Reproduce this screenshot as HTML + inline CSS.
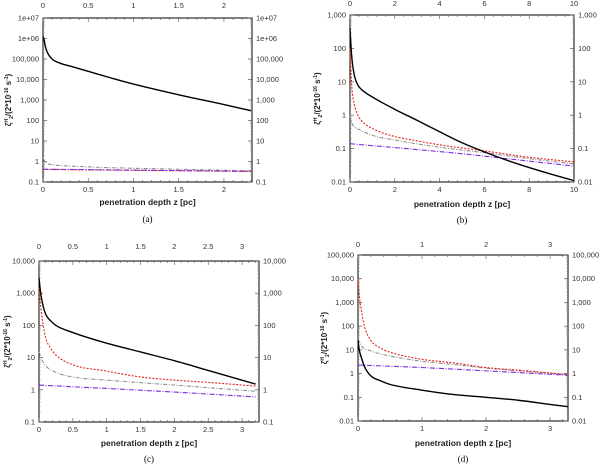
<!DOCTYPE html>
<html><head><meta charset="utf-8"><style>
html,body{margin:0;padding:0;background:#fff;}
svg{display:block;font-family:"Liberation Sans",sans-serif;}
</style></head><body>
<svg id="fig" width="600" height="464" viewBox="0 0 600 464"></svg>
<script>
// ---- data (z in pc, values in units of 2e-16 s^-1) ----
const aBlackZ=[0,0.01,0.03,0.05,0.1,0.2,0.3,0.5,0.75,1,1.5,2,2.3];
const aBlackV=[1.3e6,9e5,3.5e5,2e5,1e5,6e4,4.5e4,2.5e4,1.2e4,6e3,1.8e3,600,300];
const aGrayZ=[0,0.02,0.05,0.1,0.3,0.75,1.5,2.3];
const aGrayV=[1.5,1.0,0.8,0.7,0.6,0.5,0.42,0.35];
const aRedZ=[0,1,2.3];
const aRedV=[0.41,0.37,0.33];
const aPurpleZ=[0,1,2.3];
const aPurpleV=[0.42,0.38,0.33];

const bBlackZ=[0,0.05,0.1,0.2,0.35,0.5,1,2,3,4,5,6,7,8,9,10];
const bBlackV=[400,100,40,15,8,6,3.5,1.5,0.7,0.32,0.15,0.08,0.045,0.027,0.017,0.011];
const bRedZ=[0,0.05,0.1,0.2,0.3,0.5,1,2,3,4,6,8,10];
const bRedV=[100,15,5,2,1.2,0.7,0.4,0.23,0.17,0.13,0.085,0.055,0.04];
const bGrayZ=[0,0.05,0.1,0.5,1,2,4,6,8,10];
const bGrayV=[1,0.7,0.55,0.35,0.25,0.18,0.11,0.075,0.05,0.035];
const bPurpleZ=[0,2.5,5,7,10];
const bPurpleV=[0.14,0.1,0.07,0.05,0.03];

const cBlackZ=[0,0.02,0.05,0.1,0.17,0.25,0.5,1,1.5,2,2.5,3.2];
const cBlackV=[3000,1200,500,220,140,100,60,28,15,8,4,1.5];
const cRedZ=[0,0.02,0.05,0.1,0.17,0.25,0.5,1,1.5,2,2.5,3.2];
const cRedV=[1500,500,150,40,20,12,6,3.8,2.5,2,1.7,1.3];
const cGrayZ=[0,0.05,0.1,0.25,0.5,1,2,3.2];
const cGrayV=[15,8,5.5,3.5,2.5,2,1.4,0.9];
const cPurpleZ=[0,1,2,3.2];
const cPurpleV=[1.4,1.1,0.85,0.6];

const dBlackZ=[0,0.02,0.05,0.1,0.2,0.35,0.5,1,1.5,2,2.5,3,3.28];
const dBlackV=[25,10,5,2,0.8,0.5,0.35,0.2,0.13,0.1,0.075,0.05,0.04];
const dRedZ=[0,0.02,0.05,0.1,0.2,0.35,0.5,1,1.5,2,2.5,3.28];
const dRedV=[10000,2000,500,100,25,12,8,4,2.8,1.8,1.4,0.9];
const dGrayZ=[0,0.05,0.2,0.5,1,1.5,2,3.28];
const dGrayV=[30,15,9,5.5,3.3,2.4,1.7,0.9];
const dPurpleZ=[0,1,2,3.28];
const dPurpleV=[2.3,1.8,1.3,0.85];

const aXTicks=[0,0.5,1,1.5,2];
const bXTicks=[0,2,4,6,8,10];
const cXTicks=[0,0.5,1,1.5,2,2.5,3];
const dXTicks=[0,1,2,3];
const aYTicks=["0.1","1","10","100","1,000","10,000","100,000","1e+06","1e+07"];
const bYTicks=["0.01","0.1","1","10","100","1,000"];
const cYTicks=["0.1","1","10","100","1,000","10,000"];
const dYTicks=["0.01","0.1","1","10","100","1,000","10,000","100,000"];

const NS="http://www.w3.org/2000/svg";
const svg=document.getElementById('fig');
function mk(tag,attrs,parent){const e=document.createElementNS(NS,tag);for(const k in attrs)e.setAttribute(k,attrs[k]);(parent||svg).appendChild(e);return e;}

function monoPath(xs,ys){
  const n=xs.length;if(n<3)return xs.map((x,i)=>(i?'L':'M')+x.toFixed(1)+','+ys[i].toFixed(1)).join(' ');
  const d=[],m=new Array(n);
  for(let i=0;i<n-1;i++)d.push((ys[i+1]-ys[i])/(xs[i+1]-xs[i]));
  m[0]=d[0];m[n-1]=d[n-2];
  for(let i=1;i<n-1;i++){m[i]=(d[i-1]*d[i]<=0)?0:(d[i-1]+d[i])/2;}
  for(let i=0;i<n-1;i++){if(d[i]===0){m[i]=m[i+1]=0;continue;}
    const a=m[i]/d[i],b=m[i+1]/d[i],s=a*a+b*b;if(s>9){const t=3/Math.sqrt(s);m[i]=t*a*d[i];m[i+1]=t*b*d[i];}}
  let p='M'+xs[0].toFixed(1)+','+ys[0].toFixed(1);
  for(let i=0;i<n-1;i++){const h=(xs[i+1]-xs[i])/3;
    p+=' C'+(xs[i]+h).toFixed(2)+','+(ys[i]+m[i]*h).toFixed(2)+' '+(xs[i+1]-h).toFixed(2)+','+(ys[i+1]-m[i+1]*h).toFixed(2)+' '+xs[i+1].toFixed(2)+','+ys[i+1].toFixed(2);}
  return p;
}

const panels=[
 {id:'a',L:43,R:252,T:18,B:182,xmax:2.31,ymin:-1,ymax:7,xt:aXTicks,yt:aYTicks,topY:8,titleY:205,capY:222,cap:'(a)',ytX:11,
  series:[[aGrayZ,aGrayV,'gray'],[aRedZ,aRedV,'red'],[aPurpleZ,aPurpleV,'purple'],[aBlackZ,aBlackV,'black']]},
 {id:'b',L:350,R:574,T:15,B:182,xmax:10,ymin:-2,ymax:3,xt:bXTicks,yt:bYTicks,topY:6,titleY:207,capY:223,cap:'(b)',ytX:320,
  series:[[bGrayZ,bGrayV,'gray'],[bRedZ,bRedV,'red'],[bPurpleZ,bPurpleV,'purple'],[bBlackZ,bBlackV,'black']]},
 {id:'c',L:39,R:259,T:261,B:422,xmax:3.25,ymin:-1,ymax:4,xt:cXTicks,yt:cYTicks,topY:249,titleY:446,capY:462,cap:'(c)',ytX:10,
  series:[[cGrayZ,cGrayV,'gray'],[cRedZ,cRedV,'red'],[cPurpleZ,cPurpleV,'purple'],[cBlackZ,cBlackV,'black']]},
 {id:'d',L:358,R:568,T:255,B:421,xmax:3.28,ymin:-2,ymax:5,xt:dXTicks,yt:dYTicks,topY:247,titleY:446,capY:462,cap:'(d)',ytX:327,
  series:[[dGrayZ,dGrayV,'gray'],[dRedZ,dRedV,'red'],[dPurpleZ,dPurpleV,'purple'],[dBlackZ,dBlackV,'black']]}
];
const styles={black:{c:'#000',w:1.4,d:''},red:{c:'#e8221e',w:1.1,d:'2,1.5'},gray:{c:'#888',w:1,d:'4,1.5,1,1.5'},purple:{c:'#7a2be0',w:1.1,d:'5,1.5,1,1.5'}};

panels.forEach(p=>{
 const g=mk('g',{});
 
 
 const X=z=>p.L+(z/p.xmax)*(p.R-p.L);
 const Y=v=>p.B-(Math.log10(v)-p.ymin)/(p.ymax-p.ymin)*(p.B-p.T);
 const fr=mk('rect',{x:p.L,y:p.T,width:p.R-p.L,height:p.B-p.T,fill:'none',stroke:'#000','stroke-width':1},g);
 
 
 const step=p.xt[1]-p.xt[0];
 for(let z=0;z<=p.xmax+1e-9;z+=step/5){
   const x=X(z),major=Math.abs(z/step-Math.round(z/step))<1e-6,len=major?4:2;
   mk('line',{x1:x,y1:p.B,x2:x,y2:p.B-len,stroke:'#555','stroke-width':0.6},g);
   mk('line',{x1:x,y1:p.T,x2:x,y2:p.T+len,stroke:'#555','stroke-width':0.6},g);
 }
 p.xt.forEach(z=>{
   const t=mk('text',{x:X(z),y:p.B+10,'font-size':7.5,'text-anchor':'middle',fill:'#333'},g);t.textContent=z;
   
   
   const t2=mk('text',{x:X(z),y:p.topY,'font-size':7.5,'text-anchor':'middle',fill:'#333'},g);t2.textContent=z;
   
   
 });
 for(let e=p.ymin;e<=p.ymax;e++){
   const y=Y(Math.pow(10,e));
   mk('line',{x1:p.L,y1:y,x2:p.L+4,y2:y,stroke:'#555','stroke-width':0.7},g);
   mk('line',{x1:p.R,y1:y,x2:p.R-4,y2:y,stroke:'#555','stroke-width':0.7},g);
   const lab=p.yt[e-p.ymin];
   const t=mk('text',{x:p.L-4,y:y+2.5,'font-size':7.5,'text-anchor':'end',fill:'#333'},g);t.textContent=lab;
   
   
   const t2=mk('text',{x:p.R+4,y:y+2.5,'font-size':7.5,'text-anchor':'start',fill:'#333'},g);t2.textContent=lab;
   
   
   if(e<p.ymax)for(let k=2;k<10;k++){const yy=Y(k*Math.pow(10,e));
     mk('line',{x1:p.L,y1:yy,x2:p.L+2,y2:yy,stroke:'#999','stroke-width':0.5},g);
     mk('line',{x1:p.R,y1:yy,x2:p.R-2,y2:yy,stroke:'#999','stroke-width':0.5},g);}
 }
 p.series.forEach(([zs,vs,name])=>{
   const s=styles[name];
   const d=monoPath(zs.map(X),vs.map(Y));
   const path=mk('path',{d:d,fill:'none',stroke:s.c,'stroke-width':s.w,'stroke-dasharray':s.d,'stroke-linejoin':'round'},g);
   
   
 });
 const xt=mk('text',{x:(p.L+p.R)/2,y:p.titleY,'font-size':8.5,'font-weight':'bold','text-anchor':'middle',fill:'#222'},g);
 xt.textContent='penetration depth z [pc]';
 
 
 const cy=(p.T+p.B)/2;
 const yt=mk('text',{x:p.ytX,y:cy,'font-size':8,'font-weight':'bold','text-anchor':'middle',fill:'#222',transform:'rotate(-90 '+p.ytX+' '+cy+')'},g);
 yt.innerHTML='ζ<tspan font-size="5" dy="-3">H</tspan><tspan font-size="5" dy="5">2</tspan><tspan dy="-2">/(2*10</tspan><tspan font-size="5" dy="-3">-16</tspan><tspan dy="3"> s</tspan><tspan font-size="5" dy="-3">-1</tspan><tspan dy="3">)</tspan>';
 
 
 const cap=mk('text',{x:(p.L+p.R)/2,y:p.capY,'font-size':9,'text-anchor':'middle',fill:'#000','font-family':'Liberation Serif, serif'},g);
 cap.textContent=p.cap;
 
 
});
</script>
</body></html>
